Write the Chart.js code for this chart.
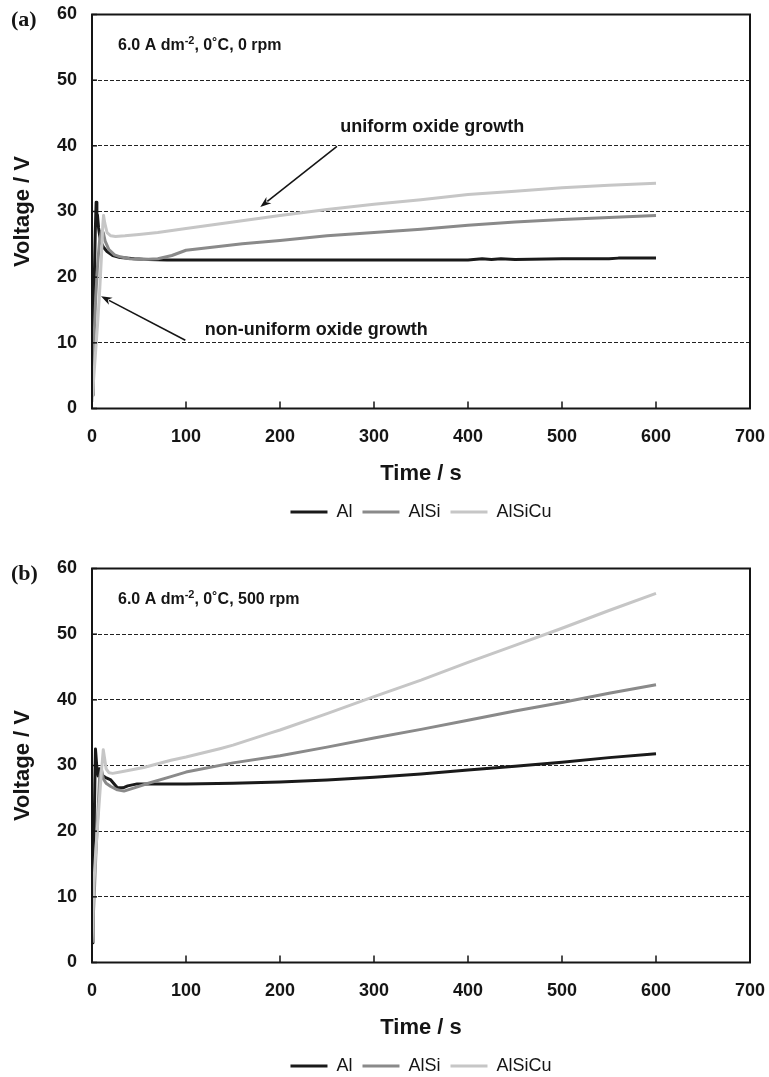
<!DOCTYPE html>
<html>
<head>
<meta charset="utf-8">
<script src="https://cdn.jsdelivr.net/npm/chart.js@4.4.1/dist/chart.umd.min.js"></script>
<style>
html,body{margin:0;padding:0;background:#fff;overflow:hidden;width:769px;height:1077px;}
.wrap{position:absolute;left:0;width:769px;height:531px;}
#wrapA{top:0;}
#wrapB{top:554px;}
</style>
</head>
<body>
<div class="wrap" id="wrapA"><canvas id="cA"></canvas></div>
<div class="wrap" id="wrapB"><canvas id="cB"></canvas></div>
<script>
// ---------- data ----------
const seriesNames = ['Al', 'AlSi', 'AlSiCu'];
const xTicks = [0, 100, 200, 300, 400, 500, 600, 700];
const yTicks = [0, 10, 20, 30, 40, 50, 60];

// (a) 6.0 A dm-2, 0 C, 0 rpm
const timeA_Al = [0, 1, 1.7, 2.5, 3.5, 4.4, 5.2, 5.8, 7, 9, 12, 16, 22, 30, 45, 60, 80, 100, 150, 200, 250, 300, 350, 400, 415, 425, 435, 450, 500, 550, 560, 600];
const voltA_Al = [2, 6, 13, 20, 27, 31.4, 28, 29.5, 27.5, 25.5, 24.6, 23.9, 23.3, 23.0, 22.8, 22.7, 22.6, 22.6, 22.6, 22.6, 22.6, 22.6, 22.6, 22.6, 22.8, 22.7, 22.8, 22.7, 22.8, 22.8, 22.9, 22.9];
const timeA_AlSi = [0, 2, 4, 6, 8, 10, 12, 14, 18, 24, 30, 40, 55, 70, 85, 100, 130, 160, 200, 250, 300, 350, 400, 450, 500, 550, 600];
const voltA_AlSi = [3, 10, 17, 22, 25.5, 27, 26.8, 25.5, 24.2, 23.4, 23.1, 22.8, 22.7, 22.8, 23.3, 24.1, 24.6, 25.1, 25.6, 26.3, 26.8, 27.3, 27.9, 28.4, 28.8, 29.1, 29.4];
const timeA_AlSiCu = [0, 3, 6, 8, 10, 11.5, 12.3, 13.5, 16, 20, 25, 35, 50, 70, 100, 150, 200, 250, 300, 350, 400, 450, 500, 550, 600];
const voltA_AlSiCu = [1, 7, 13, 17.5, 23, 28, 29.4, 28.3, 26.8, 26.3, 26.2, 26.3, 26.5, 26.8, 27.4, 28.4, 29.4, 30.3, 31.1, 31.8, 32.6, 33.1, 33.6, 34.0, 34.3];

// (b) 6.0 A dm-2, 0 C, 500 rpm
const timeB_Al = [0, 1, 2, 3, 3.7, 5, 6.6, 8, 10, 14, 20, 27, 33, 38, 48, 70, 100, 150, 200, 250, 300, 350, 400, 450, 500, 550, 600];
const voltB_Al = [3, 10, 18, 27, 32.5, 30, 28.4, 29.5, 28.6, 28.2, 27.8, 26.6, 26.6, 26.9, 27.2, 27.2, 27.2, 27.3, 27.5, 27.8, 28.2, 28.7, 29.3, 29.9, 30.5, 31.2, 31.8];
const timeB_AlSi = [0, 2, 4, 6, 8, 10, 12, 15, 20, 27, 34, 45, 60, 84, 100, 150, 200, 250, 300, 350, 400, 450, 500, 550, 600];
const voltB_AlSi = [3, 9, 16, 22, 28, 29.5, 28, 27.3, 26.8, 26.3, 26.1, 26.6, 27.3, 28.3, 29.0, 30.4, 31.5, 32.8, 34.2, 35.5, 36.9, 38.3, 39.6, 41.0, 42.3];
const timeB_AlSiCu = [0, 2, 4, 6, 8, 10, 12, 13.5, 15, 18, 22, 30, 55, 84, 100, 137, 150, 191, 200, 250, 300, 350, 400, 450, 500, 550, 600];
const voltB_AlSiCu = [3, 12, 17, 21, 25, 29, 32.4, 31, 29.5, 28.9, 28.8, 29.0, 29.7, 30.8, 31.3, 32.6, 33.1, 35.0, 35.4, 37.9, 40.5, 43.0, 45.7, 48.3, 50.9, 53.6, 56.2];

// ---------- styles ----------
const seriesColors = ['#1a1a1a', '#8a8a8a', '#c6c6c6'];
const FONT = '"Liberation Sans", Arial, Helvetica, sans-serif';
const INK = '#151515';

function pts(t, v) { return t.map((x, i) => ({x: x, y: v[i]})); }

const decor = {
  id: 'decor',
  afterDraw(chart, args, opts) {
    const ctx = chart.ctx;
    const {left, right, top, bottom} = chart.chartArea;
    const xs = chart.scales.x, ys = chart.scales.y;
    ctx.save();
    // inward tick marks
    ctx.strokeStyle = INK; ctx.lineWidth = 1.5;
    xTicks.forEach(v => {
      const px = xs.getPixelForValue(v);
      ctx.beginPath(); ctx.moveTo(px, bottom); ctx.lineTo(px, bottom - 7); ctx.stroke();
    });
    yTicks.forEach(v => {
      const py = ys.getPixelForValue(v);
      ctx.beginPath(); ctx.moveTo(left, py); ctx.lineTo(left + 5, py); ctx.stroke();
    });
    // frame
    ctx.lineWidth = 2; ctx.strokeStyle = INK;
    ctx.strokeRect(left, top, right - left, bottom - top);
    // panel label
    ctx.fillStyle = INK; ctx.textAlign = 'left'; ctx.textBaseline = 'middle';
    ctx.font = 'bold 22px "Liberation Serif", "Times New Roman", serif';
    ctx.fillText(opts.panel, 11, 20);
    // condition text with superscript
    ctx.textBaseline = 'alphabetic';
    let sx = left + 26, sy = top + 35.5;
    ctx.font = 'bold 16px ' + FONT;
    ctx.fillText(opts.cond[0], sx, sy); sx += ctx.measureText(opts.cond[0]).width;
    ctx.font = 'bold 11px ' + FONT;
    ctx.fillText(opts.cond[1], sx, sy - 6); sx += ctx.measureText(opts.cond[1]).width;
    ctx.font = 'bold 16px ' + FONT;
    ctx.fillText(opts.cond[2], sx, sy);
    // annotations
    (opts.notes || []).forEach(n => {
      ctx.font = 'bold 18px ' + FONT;
      ctx.textBaseline = 'middle';
      ctx.fillText(n.text, xs.getPixelForValue(n.at[0]), ys.getPixelForValue(n.at[1]));
      const x1 = xs.getPixelForValue(n.from[0]), y1 = ys.getPixelForValue(n.from[1]);
      const x2 = xs.getPixelForValue(n.to[0]), y2 = ys.getPixelForValue(n.to[1]);
      const ang = Math.atan2(y2 - y1, x2 - x1);
      const L = 11, W = 4;
      ctx.lineWidth = 1.6; ctx.strokeStyle = INK;
      ctx.beginPath(); ctx.moveTo(x1, y1);
      ctx.lineTo(x2 - Math.cos(ang) * (L - 2), y2 - Math.sin(ang) * (L - 2)); ctx.stroke();
      ctx.beginPath();
      ctx.moveTo(x2, y2);
      ctx.lineTo(x2 - Math.cos(ang) * L + Math.sin(ang) * W, y2 - Math.sin(ang) * L - Math.cos(ang) * W);
      ctx.lineTo(x2 - Math.cos(ang) * L * 0.7, y2 - Math.sin(ang) * L * 0.7);
      ctx.lineTo(x2 - Math.cos(ang) * L - Math.sin(ang) * W, y2 - Math.sin(ang) * L + Math.cos(ang) * W);
      ctx.closePath(); ctx.fill();
    });
    ctx.restore();
  }
};

function makeChart(id, series, panel, cond, notes) {
  const datasets = series.map((s, i) => ({
    label: seriesNames[i],
    data: pts(s[0], s[1]),
    borderColor: seriesColors[i],
    backgroundColor: seriesColors[i],
    borderWidth: 3,
    borderJoinStyle: 'round',
    pointRadius: 0,
    tension: 0,
    fill: false,
    order: 3 - i
  }));
  return new Chart(document.getElementById(id), {
    type: 'line',
    data: {datasets},
    plugins: [decor],
    options: {
      responsive: true,
      maintainAspectRatio: false,
      animation: false,
      devicePixelRatio: 1,
      layout: {padding: {top: 14.5, right: 19, left: 0, bottom: 0}},
      scales: {
        x: {
          type: 'linear', min: 0, max: 700,
          afterBuildTicks: s => { s.ticks = xTicks.map(v => ({value: v})); },
          afterFit: s => { s.height = 84.5; s.paddingLeft = 0; s.paddingRight = 0; },
          grid: {display: false, drawTicks: false},
          border: {display: false},
          ticks: {padding: 18, color: INK, font: {family: FONT, size: 18, weight: 'bold'}, maxRotation: 0},
          title: {display: true, text: 'Time / s', color: INK, padding: {top: 0, bottom: 6}, font: {family: FONT, size: 22, weight: 'bold'}}
        },
        y: {
          type: 'linear', min: 0, max: 60,
          afterBuildTicks: s => { s.ticks = yTicks.map(v => ({value: v})); },
          afterFit: s => { s.width = 92; s.paddingTop = 0; s.paddingBottom = 0; },
          grid: {color: '#222', lineWidth: 1, drawTicks: false},
          border: {display: false, dash: [4, 2]},
          ticks: {padding: 15, color: INK, font: {family: FONT, size: 18, weight: 'bold'}},
          title: {display: true, text: 'Voltage / V', color: INK, padding: {top: 10, bottom: 0}, font: {family: FONT, size: 22, weight: 'bold'}}
        }
      },
      plugins: {
        legend: {
          position: 'bottom',
          fullSize: false,
          labels: {
            boxWidth: 37, boxHeight: 3, padding: 10, color: INK,
            font: {family: FONT, size: 18},
            generateLabels: ch => ch.data.datasets.map((d, i) => ({
              text: d.label, fillStyle: d.borderColor, strokeStyle: d.borderColor,
              lineWidth: 0, hidden: false, datasetIndex: i, fontColor: INK
            }))
          }
        },
        tooltip: {enabled: false},
        decor: {panel, cond, notes}
      }
    }
  });
}

makeChart('cA',
  [[timeA_Al, voltA_Al], [timeA_AlSi, voltA_AlSi], [timeA_AlSiCu, voltA_AlSiCu]],
  '(a)', ['6.0 A dm', '-2', ', 0˚C, 0 rpm'],
  [
    {text: 'uniform oxide growth', at: [264, 42.9], from: [260.6, 39.9], to: [179, 30.7]},
    {text: 'non-uniform oxide growth', at: [120, 11.9], from: [99.3, 10.4], to: [9.6, 17.1]}
  ]);

makeChart('cB',
  [[timeB_Al, voltB_Al], [timeB_AlSi, voltB_AlSi], [timeB_AlSiCu, voltB_AlSiCu]],
  '(b)', ['6.0 A dm', '-2', ', 0˚C, 500 rpm'],
  []);
</script>
</body>
</html>
